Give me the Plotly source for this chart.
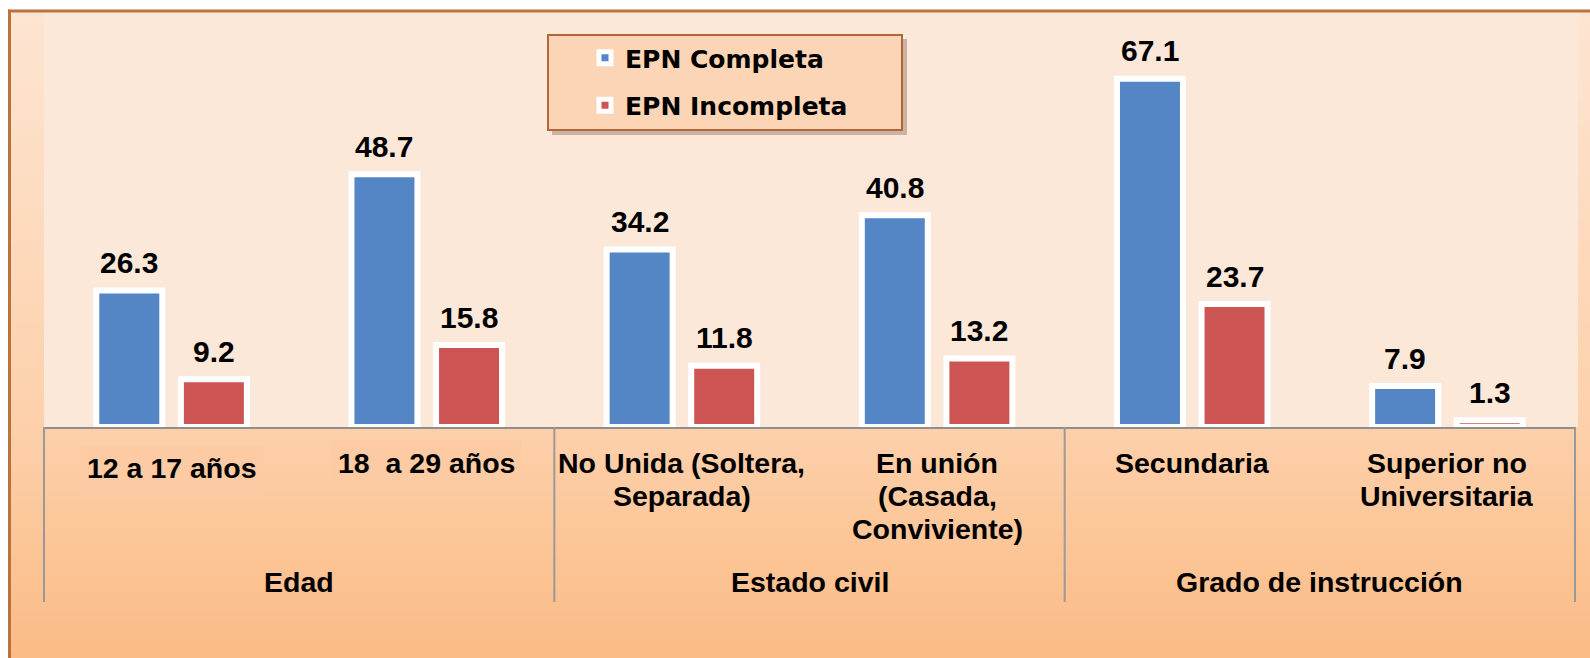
import plotly.graph_objects as go

# data
categories = ["12 a 17 años", "18\u00a0 a 29 años", "No Unida (Soltera,<br>Separada)",
              "En unión<br>(Casada,<br>Conviviente)", "Secundaria", "Superior no<br>Universitaria"]
groups = ["Edad", "Estado civil", "Grado de instrucción"]
group_sizes = [2, 2, 2]
series_names = ["EPN Completa", "EPN Incompleta"]
epn_completa = [26.3, 48.7, 34.2, 40.8, 67.1, 7.9]
epn_incompleta = [9.2, 15.8, 11.8, 13.2, 23.7, 1.3]

# body margin is removed in the page, so figure pixels = window pixels
W, H = 1590, 658
L, T = 44, 43
R = W - 1575
B = H - 427
PW, PH = W - L - R, H - T - B
AXIS_Y = 427


def px_x(p):  # window pixel -> paper
    return (p - L) / PW


def px_y(p):
    return (AXIS_Y - p) / PH


BOLD = "Liberation Sans, Arial, sans-serif"
colors = ["#5485C5", "#CC5452"]

fig = go.Figure()
for name, vals, col in zip(series_names, [epn_completa, epn_incompleta], colors):
    fig.add_trace(go.Bar(x=categories, y=vals, name=name, legendgroup=name,
                         marker=dict(color=col, line=dict(color="white", width=6))))

shapes = []
# background gradient inside the frame
stops = [(10, (253, 229, 210)), (427, (253, 208, 170)), (664, (251, 186, 132))]
step = 6
for y in range(10, 664, step):
    for (a, ca), (b, cb) in zip(stops[:-1], stops[1:]):
        if a <= y <= b:
            f = (y - a) / (b - a)
            c = tuple(round(ca[i] + (cb[i] - ca[i]) * f) for i in range(3))
            break
    shapes.append(dict(type="rect", xref="paper", yref="paper", layer="below",
                       x0=px_x(9), x1=px_x(1600), y0=px_y(y + step + 1), y1=px_y(y),
                       fillcolor="rgb(%d,%d,%d)" % c, line=dict(width=0)))
# light plot area
shapes.append(dict(type="rect", xref="paper", yref="paper", layer="below",
                   x0=0, x1=1.002, y0=0, y1=px_y(12), fillcolor="#FCE8D9", line=dict(width=0)))
# frame: only left and top edges are inside the window
shapes.append(dict(type="line", xref="paper", yref="paper", layer="below",
                   x0=px_x(9.5), x1=px_x(9.5), y0=px_y(700), y1=px_y(9.5),
                   line=dict(color="#B8733F", width=3)))
shapes.append(dict(type="line", xref="paper", yref="paper", layer="below",
                   x0=px_x(8), x1=px_x(1640), y0=px_y(11), y1=px_y(11),
                   line=dict(color="#B8733F", width=3)))
# category box dividers
n = len(categories)
pos = 0
edges = [0]
for s in group_sizes:
    pos += s
    edges.append(pos)
for e in edges:
    shapes.append(dict(type="line", xref="paper", yref="paper", layer="above",
                       x0=e / n, x1=e / n, y0=0, y1=px_y(602),
                       line=dict(color="#999999", width=2)))
# legend box
shapes.append(dict(type="rect", xref="paper", yref="paper", layer="above",
                   x0=px_x(552), x1=px_x(907), y0=px_y(135), y1=px_y(39),
                   fillcolor="rgba(110,80,60,0.35)", line=dict(width=0)))
shapes.append(dict(type="rect", xref="paper", yref="paper", layer="above",
                   x0=px_x(548), x1=px_x(902), y0=px_y(130), y1=px_y(35),
                   fillcolor="#FBD5B5", line=dict(color="#B0683A", width=2)))

annotations = []
# value labels
slot = PW / n * (1 - 0.337) / 2
for k, vals in enumerate([epn_completa, epn_incompleta]):
    for c, v in zip(categories, vals):
        annotations.append(dict(x=c, y=v, xref="x", yref="y", text=str(v), showarrow=False,
                                xshift=(k - 0.5) * slot, yshift=28, yanchor="middle",
                                font=dict(family=BOLD, size=30, color="black", weight="bold")))
# category labels, line by line
for i, c in enumerate(categories):
    base = 478 if i == 0 else 473
    for j, line in enumerate(c.split("<br>")):
        extra = {}
        if i < 2:
            extra = dict(bgcolor="#FCCBA3", borderpad=6)
        annotations.append(dict(x=c, xref="x", yref="paper", y=px_y(base - 10 + 33 * j),
                                text=line, showarrow=False, xanchor="center", yanchor="middle",
                                font=dict(family=BOLD, size=28.5, color="black", weight="bold"),
                                **extra))
# group labels
for g, a, b in zip(groups, edges[:-1], edges[1:]):
    annotations.append(dict(x=(a + b) / 2 / n, xref="paper", yref="paper", y=px_y(582),
                            text=g, showarrow=False, xanchor="center", yanchor="middle",
                            font=dict(family=BOLD, size=28.5, color="black", weight="bold")))

fig.update_layout(
    width=W, height=H,
    margin=dict(l=L, r=R, t=T, b=B, pad=0),
    paper_bgcolor="white", plot_bgcolor="rgba(0,0,0,0)",
    barmode="group", bargap=0.337, bargroupgap=0.22,
    xaxis=dict(showticklabels=False, ticks="", showgrid=False, showline=True,
               linecolor="#8E8E8E", linewidth=2, range=[-0.5, n - 0.5], fixedrange=True),
    yaxis=dict(visible=False, range=[0, 74], fixedrange=True),
    legend=dict(x=px_x(585), y=px_y(35), xanchor="left", yanchor="top",
                bgcolor="rgba(0,0,0,0)", borderwidth=0, traceorder="grouped",
                tracegroupgap=12,
                font=dict(family="DejaVu Sans", size=25, color="black", weight="bold")),
    shapes=shapes, annotations=annotations,
)

fig.write_html("out.html", config={"displayModeBar": False},
               post_script="document.body.style.margin='0';"
                           "document.documentElement.style.overflow='hidden';"
                           "document.body.style.overflow='hidden';")
